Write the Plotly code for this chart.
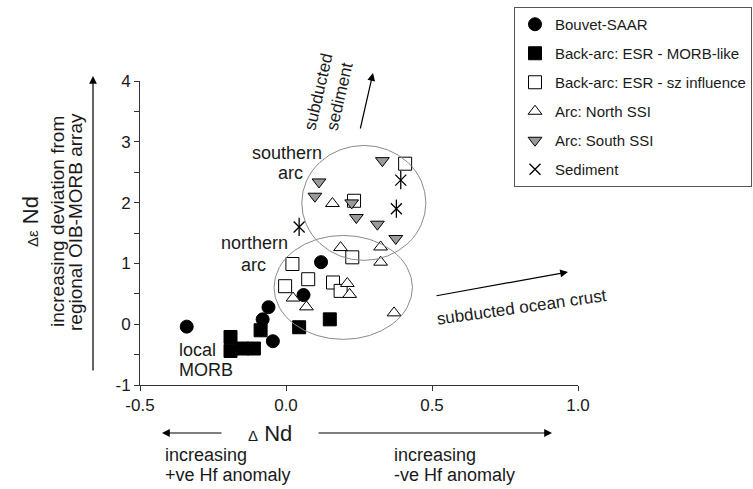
import plotly.graph_objects as go

# ---------------- data ----------------
bouvet_x = [-0.34, 0.12, 0.06, -0.06, -0.08, -0.045]
bouvet_y = [-0.04, 1.02, 0.48, 0.28, 0.08, -0.28]

morb_like_x = [-0.19, -0.19, -0.15, -0.11, -0.087, 0.045, 0.15]
morb_like_y = [-0.21, -0.44, -0.40, -0.40, -0.10, -0.05, 0.08]

sz_infl_x = [0.022, 0.227, 0.076, -0.003, 0.161, 0.187, 0.408, 0.233]
sz_infl_y = [0.99, 1.10, 0.74, 0.625, 0.686, 0.548, 2.64, 2.03]

north_ssi_x = [0.187, 0.324, 0.324, 0.21, 0.218, 0.024, 0.07, 0.37, 0.159]
north_ssi_y = [1.26, 1.27, 1.02, 0.67, 0.49, 0.43, 0.285, 0.186, 1.985]

south_ssi_x = [0.33, 0.113, 0.099, 0.225, 0.241, 0.313, 0.376]
south_ssi_y = [2.69, 2.34, 2.105, 1.995, 1.755, 1.645, 1.41]

sediment_x = [0.393, 0.378, 0.045]
sediment_y = [2.37, 1.90, 1.60]

# ellipses (x0, x1, y0, y1) in data units
southern_ellipse = [0.054, 0.479, 1.05, 2.94]
northern_ellipse = [-0.041, 0.433, -0.25, 1.46]

x_range = [-0.5, 1.0]
y_range = [-1, 4]
x_tickvals = [-0.5, 0.0, 0.5, 1.0]
x_ticktext = ["-0.5", "0.0", "0.5", "1.0"]
y_tickvals = [-1, -0.5, 0, 0.5, 1, 1.5, 2, 2.5, 3, 3.5, 4]
y_ticktext = ["-1", "", "0", "", "1", "", "2", "", "3", "", "4"]

legend_names = ["Bouvet-SAAR", "Back-arc: ESR - MORB-like",
                "Back-arc: ESR - sz influence", "Arc: North SSI",
                "Arc: South SSI", "Sediment"]

# ---------------- layout geometry ----------------
W, H = 753, 489
ML, MR, MT, MB = 140, 175, 81, 104
PW = W - ML - MR
PH = H - MT - MB
FONT = "Liberation Sans, Arial, Helvetica, sans-serif"


def fx(px):
    return (px - ML) / PW


def fy(py):
    return (H - MB - py) / PH


fig = go.Figure()

line_k = dict(color="black", width=1)
fig.add_trace(go.Scatter(x=bouvet_x, y=bouvet_y, mode="markers", name=legend_names[0],
                         legendgroup="g1",
                         marker=dict(symbol="circle", size=13, color="black", line=line_k)))
fig.add_trace(go.Scatter(x=morb_like_x, y=morb_like_y, mode="markers", name=legend_names[1],
                         legendgroup="g2",
                         marker=dict(symbol="square", size=13, color="black", line=line_k)))
fig.add_trace(go.Scatter(x=sz_infl_x, y=sz_infl_y, mode="markers", name=legend_names[2],
                         legendgroup="g3",
                         marker=dict(symbol="square", size=13, color="white", line=line_k)))
fig.add_trace(go.Scatter(x=north_ssi_x, y=north_ssi_y, mode="markers", name=legend_names[3],
                         legendgroup="g4",
                         marker=dict(symbol="triangle-up", size=12, color="white", line=line_k)))
fig.add_trace(go.Scatter(x=south_ssi_x, y=south_ssi_y, mode="markers", name=legend_names[4],
                         legendgroup="g5",
                         marker=dict(symbol="triangle-down", size=12, color="#9a9a9a", line=line_k)))
fig.add_trace(go.Scatter(x=sediment_x, y=sediment_y, mode="markers", name=legend_names[5],
                         legendgroup="g6",
                         marker=dict(symbol="x-thin-open", size=11, color="black",
                                     line=dict(color="black", width=1.3))))
fig.add_trace(go.Scatter(x=sediment_x, y=sediment_y, mode="markers", name=legend_names[5],
                         legendgroup="g6", showlegend=False,
                         marker=dict(symbol="line-ns-open", size=13, color="black",
                                     line=dict(color="black", width=1.3))))

shapes = []
for e in (southern_ellipse, northern_ellipse):
    shapes.append(dict(type="circle", xref="x", yref="y", x0=e[0], x1=e[1], y0=e[2], y1=e[3],
                       line=dict(color="#8a8a8a", width=1)))

annotations = []


def txt(text, px, py, size, angle=0, xanchor="center"):
    annotations.append(dict(text=text, x=fx(px), y=fy(py), xref="paper", yref="paper",
                            showarrow=False, textangle=angle, xanchor=xanchor, yanchor="middle",
                            font=dict(family=FONT, size=size, color="#1a1a1a")))


def arrow(hx, hy, tx, ty):
    annotations.append(dict(text="", x=fx(hx), y=fy(hy), xref="paper", yref="paper",
                            ax=tx - hx, ay=ty - hy, showarrow=True, arrowhead=2,
                            arrowsize=1.3, arrowwidth=1.2, arrowcolor="black"))


txt("southern", 287, 153, 18)
txt("arc", 290, 173, 18)
txt("northern", 254, 243, 18)
txt("arc", 253, 265, 18)
txt("local", 177, 350, 18, xanchor="left")
txt("MORB", 177, 370, 18, xanchor="left")
txt("subducted", 318, 92, 17, angle=-77)
txt("sediment", 339, 97, 17, angle=-77)
arrow(373, 73, 360, 130)
txt("subducted ocean crust", 521, 307, 17, angle=-8)
arrow(568, 272, 435, 296)

# y-axis titles
txt("<span style='font-size:15px'>Δε</span> Nd", 30, 222, 22, angle=-90)
txt("increasing deviation from", 57, 222, 19, angle=-90)
txt("regional OIB-MORB array", 75, 222, 19, angle=-90)
arrow(93, 76, 93, 372)

# x-axis titles
txt("<span style='font-size:15px'>Δ</span> Nd", 270, 433, 22)
arrow(162, 433, 223, 433)
arrow(552, 433, 317, 433)
txt("increasing", 163, 455, 18, xanchor="left")
txt("+ve Hf anomaly", 163, 475, 18, xanchor="left")
txt("increasing", 392, 455, 18, xanchor="left")
txt("-ve Hf anomaly", 392, 475, 18, xanchor="left")

axis_common = dict(showline=True, linecolor="#333", linewidth=1, showgrid=False, zeroline=False,
                   ticks="outside", ticklen=5, tickcolor="#333", tickwidth=1,
                   tickfont=dict(family=FONT, size=17, color="#1a1a1a"), fixedrange=True)

fig.update_layout(
    width=W, height=H,
    margin=dict(l=ML, r=MR, t=MT, b=MB, pad=0, autoexpand=False),
    paper_bgcolor="white", plot_bgcolor="white",
    xaxis=dict(range=x_range, tickmode="array", tickvals=x_tickvals, ticktext=x_ticktext,
               **axis_common),
    yaxis=dict(range=y_range, tickmode="array", tickvals=y_tickvals, ticktext=y_ticktext,
               **axis_common),
    shapes=shapes,
    annotations=annotations,
    showlegend=True,
    legend=dict(x=fx(514), y=fy(7), xanchor="left", yanchor="top",
                bordercolor="#555", borderwidth=1, bgcolor="white",
                font=dict(family=FONT, size=15, color="#1a1a1a"),
                tracegroupgap=6.5, traceorder="grouped"),
)

fig.write_html("out.html")
